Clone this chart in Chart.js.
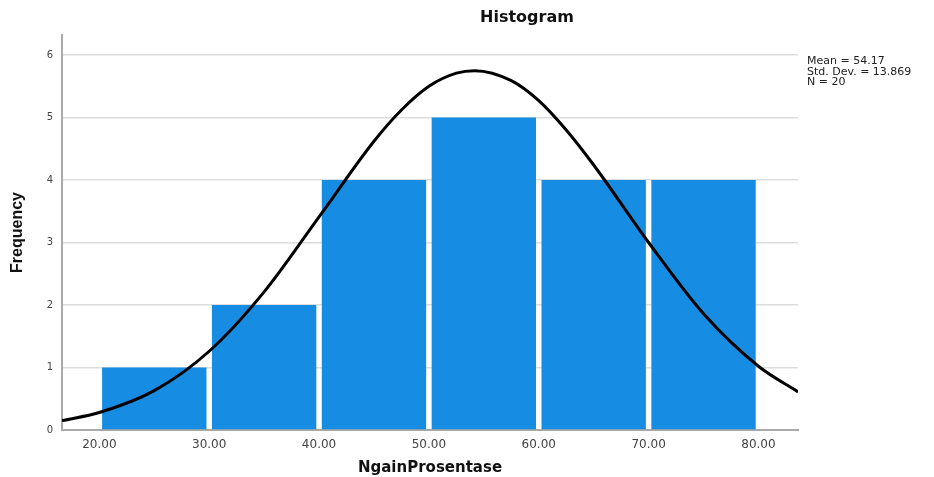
<!DOCTYPE html>
<html>
<head>
<meta charset="utf-8">
<script src="https://cdn.jsdelivr.net/npm/chart.js@4.4.1/dist/chart.umd.min.js"></script>
<style>
  html, body { margin: 0; padding: 0; background: #ffffff; }
  #wrap { width: 934px; height: 477px; position: relative; }
</style>
</head>
<body>
<div id="wrap"><canvas id="c" width="934" height="477"></canvas></div>
<script>
// ---- data ----
const binCenters = [25, 35, 45, 55, 65, 75];
const frequencies = [1, 2, 4, 5, 4, 4];
const curveX = [16.6, 20, 25, 30, 35, 40, 45, 47.5, 50, 52.5, 54.17, 57.5, 60, 62.5, 65, 70, 75, 80, 83.6];
const curveY = [0.15, 0.28, 0.63, 1.26, 2.21, 3.41, 4.62, 5.12, 5.50, 5.71, 5.75, 5.59, 5.27, 4.80, 4.24, 3.00, 1.86, 1.02, 0.61];
const xTickValues = [20, 30, 40, 50, 60, 70, 80];
const yTickValues = [0, 1, 2, 3, 4, 5, 6];
const statLines = ['Mean = 54.17', 'Std. Dev. = 13.869', 'N = 20'];
const chartTitle = 'Histogram';
const xTitle = 'NgainProsentase';
const yTitle = 'Frequency';

const textPlugin = {
  id: 'textPlugin',
  afterDraw(chart) {
    const ctx = chart.ctx;
    const a = chart.chartArea;
    ctx.save();
    ctx.fillStyle = '#111';
    ctx.font = 'bold 16px "DejaVu Sans", sans-serif';
    ctx.textAlign = 'center';
    ctx.textBaseline = 'middle';
    ctx.fillText(chartTitle, a.left + 465, 18);
    ctx.font = '11px "DejaVu Sans", sans-serif';
    ctx.textAlign = 'left';
    ctx.textBaseline = 'top';
    ctx.fillStyle = '#222';
    statLines.forEach((s, i) => ctx.fillText(s, a.right + 9, 56 + i * 10.5));
    ctx.restore();
  }
};

new Chart(document.getElementById('c'), {
  type: 'bar',
  data: {
    datasets: [
      {
        type: 'line',
        data: curveX.map((x, i) => ({ x: x, y: curveY[i] })),
        borderColor: '#000000',
        borderWidth: 3,
        pointRadius: 0,
        fill: false,
        cubicInterpolationMode: 'monotone',
        order: 0
      },
      {
        type: 'bar',
        data: binCenters.map((x, i) => ({ x: x, y: frequencies[i] })),
        backgroundColor: '#168ce3',
        borderWidth: 0,
        barPercentage: 0.95,
        categoryPercentage: 1.0,
        order: 1
      }
    ]
  },
  options: {
    responsive: false,
    animation: false,
    devicePixelRatio: 1,
    layout: { padding: { top: 35, right: 136, left: 0, bottom: 0 } },
    plugins: {
      legend: { display: false },
      tooltip: { enabled: false },
      title: { display: false }
    },
    scales: {
      x: {
        type: 'linear',
        offset: false,
        min: 16.6,
        max: 83.6,
        afterBuildTicks: (s) => { s.ticks = xTickValues.map(v => ({ value: v })); },
        afterFit: (s) => { s.height = 47; },
        grid: { display: false, drawTicks: false, offset: false },
        border: { display: true, color: '#aaaaaa', width: 2 },
        ticks: {
          padding: 8,
          color: '#444',
          font: { family: '"DejaVu Sans", sans-serif', size: 12 },
          callback: (v) => Number(v).toFixed(2),
          maxRotation: 0
        },
        title: {
          display: true,
          text: xTitle,
          color: '#111',
          font: { family: '"DejaVu Sans", sans-serif', size: 15, weight: 'bold' },
          padding: { top: 4, bottom: 0 }
        }
      },
      y: {
        min: 0,
        max: 6.32,
        afterBuildTicks: (s) => { s.ticks = yTickValues.map(v => ({ value: v })); },
        afterFit: (s) => { s.width = 62; },
        grid: { color: '#dddddd', lineWidth: 1.5, drawTicks: false },
        border: { display: true, color: '#aaaaaa', width: 2 },
        ticks: {
          padding: 9,
          color: '#444',
          font: { family: '"DejaVu Sans", sans-serif', size: 10 }
        },
        title: {
          display: true,
          text: yTitle,
          color: '#111',
          font: { family: '"Liberation Sans Narrow", "Liberation Sans", sans-serif', size: 16, weight: 'bold' },
          padding: { top: 8, bottom: 6 }
        }
      }
    }
  },
  plugins: [textPlugin]
});
</script>
</body>
</html>
